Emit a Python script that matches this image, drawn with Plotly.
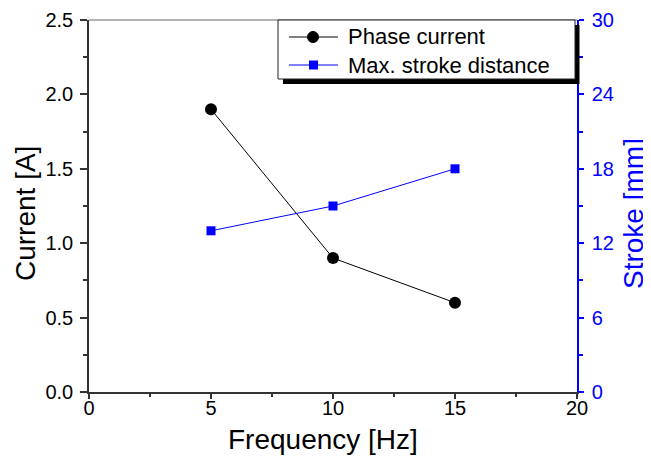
import plotly.graph_objects as go

frequency = [5, 10, 15]
phase_current = [1.9, 0.9, 0.6]
stroke_distance = [13, 15, 18]

x_ticks = [0, 5, 10, 15, 20]
y_ticks = [0.0, 0.5, 1.0, 1.5, 2.0, 2.5]
y2_ticks = [0, 6, 12, 18, 24, 30]

series_names = ["Phase current", "Max. stroke distance"]

FONT = "Arial, Liberation Sans, sans-serif"
BLUE = "#0000ff"
AX = "#333333"

fig = go.Figure()
fig.add_trace(go.Scatter(
    x=frequency, y=phase_current, name=series_names[0], mode="lines+markers",
    line=dict(color="black", width=1),
    marker=dict(symbol="circle", size=12, color="black"),
))
fig.add_trace(go.Scatter(
    x=frequency, y=stroke_distance, name=series_names[1], mode="lines+markers",
    yaxis="y2",
    line=dict(color=BLUE, width=1),
    marker=dict(symbol="square", size=9, color=BLUE),
))

# plot area in image pixels (page has an 8px body margin)
PX0, PX1, PY0, PY1 = 89.0, 577.0, 20.0, 392.0


def px(x):
    return (x - PX0) / (PX1 - PX0)


def py(y):
    return (PY1 - y) / (PY1 - PY0)


shapes = [
    # top frame line
    dict(type="line", xref="paper", yref="paper", x0=0, x1=1, y0=1, y1=1,
         line=dict(color="#999999", width=1.5), layer="below"),
    # legend shadow
    dict(type="rect", xref="paper", yref="paper", x0=px(283), x1=px(579.5), y0=py(84), y1=py(25),
         fillcolor="black", line=dict(width=0), layer="above"),
    # legend box
    dict(type="rect", xref="paper", yref="paper", x0=px(278), x1=px(575), y0=py(79), y1=py(20),
         fillcolor="white", line=dict(color="#222222", width=1), layer="above"),
]

legend_rows = [37, 65]
legend_colors = ["black", BLUE]
for i, (ry, col) in enumerate(zip(legend_rows, legend_colors)):
    shapes.append(dict(type="line", xref="paper", yref="paper", x0=px(289), x1=px(338),
                       y0=py(ry), y1=py(ry), line=dict(color=col, width=1), layer="above"))
    if i == 0:
        shapes.append(dict(type="circle", xref="paper", yref="paper", x0=px(307.5), x1=px(318.5),
                           y0=py(ry + 5.5), y1=py(ry - 5.5), fillcolor=col,
                           line=dict(color=col, width=1), layer="above"))
    else:
        shapes.append(dict(type="rect", xref="paper", yref="paper", x0=px(309), x1=px(318),
                           y0=py(ry + 4.5), y1=py(ry - 4.5), fillcolor=col,
                           line=dict(color=col, width=0), layer="above"))

annotations = []
for name, ry in zip(series_names, legend_rows):
    annotations.append(dict(text=name, xref="paper", yref="paper", x=px(346), y=py(ry),
                            xanchor="left", yanchor="middle", showarrow=False,
                            font=dict(size=22, family=FONT, color="black")))

annotations += [
    dict(text="Frequency [Hz]", xref="paper", yref="paper", x=px(323), y=py(440),
         xanchor="center", yanchor="middle", showarrow=False,
         font=dict(size=28, family=FONT, color="black")),
    dict(text="Current [A]", xref="paper", yref="paper", x=px(25), y=py(214),
         xanchor="center", yanchor="middle", showarrow=False, textangle=-90,
         font=dict(size=28, family=FONT, color="black")),
    dict(text="Stroke [mm]", xref="paper", yref="paper", x=px(633), y=py(214),
         xanchor="center", yanchor="middle", showarrow=False, textangle=-90,
         font=dict(size=28, family=FONT, color=BLUE)),
]

fig.update_layout(
    width=651, height=456,
    margin=dict(l=81, r=82, t=12, b=72),
    paper_bgcolor="white", plot_bgcolor="white",
    font=dict(family=FONT, size=20, color="black"),
    showlegend=False,
    xaxis=dict(
        range=[0, 20], tickvals=x_ticks, ticktext=[str(v) for v in x_ticks],
        showgrid=False, zeroline=False, showline=True, linecolor=AX, linewidth=1.5,
        ticks="outside", ticklen=5, tickcolor=AX, tickwidth=1.5,
        minor=dict(dtick=2.5, ticks="outside", ticklen=3, tickcolor=AX, tickwidth=1.5),
        tickfont=dict(size=20), ticklabelstandoff=-8,
        automargin=False,
    ),
    yaxis=dict(
        range=[0, 2.5], tickvals=y_ticks, ticktext=[f"{v:.1f}" for v in y_ticks],
        showgrid=False, zeroline=False, showline=True, linecolor=AX, linewidth=1.5,
        ticks="outside", ticklen=7, tickcolor=AX, tickwidth=1.5,
        minor=dict(dtick=0.25, ticks="outside", ticklen=4, tickcolor=AX, tickwidth=1.5),
        tickfont=dict(size=20), ticklabelstandoff=3,
        automargin=False,
    ),
    yaxis2=dict(
        range=[0, 30], tickvals=y2_ticks, ticktext=[str(v) for v in y2_ticks],
        overlaying="y", side="right", anchor="x",
        showgrid=False, zeroline=False, showline=True, linecolor=BLUE, linewidth=1.5,
        ticks="outside", ticklen=5, tickcolor=BLUE, tickwidth=1.5,
        minor=dict(dtick=3, ticks="outside", ticklen=4, tickcolor=BLUE, tickwidth=1.5),
        tickfont=dict(size=20, color=BLUE), ticklabelstandoff=4,
        automargin=False,
    ),
    shapes=shapes,
    annotations=annotations,
)

fig.write_html("out.html")
